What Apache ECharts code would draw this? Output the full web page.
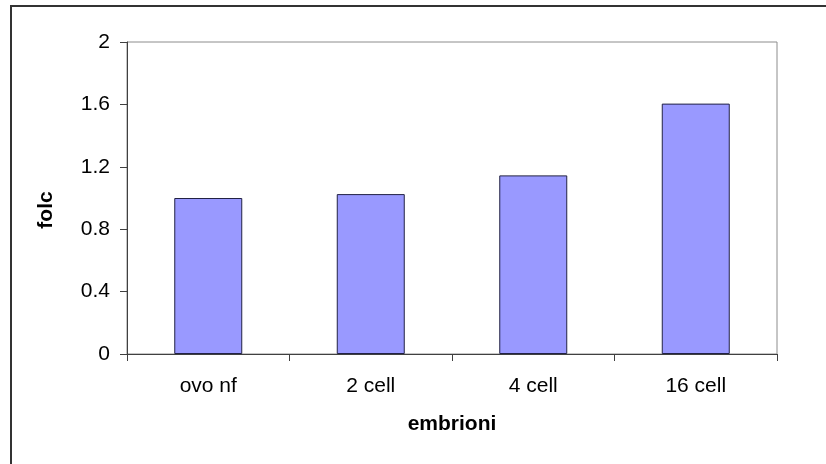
<!DOCTYPE html>
<html>
<head>
<meta charset="utf-8">
<script src="https://cdn.jsdelivr.net/npm/echarts@6/dist/echarts.min.js"></script>
<style>
  html, body { margin: 0; padding: 0; background: #ffffff; }
  #chart { width: 826px; height: 464px; }
</style>
</head>
<body>
<div id="chart"></div>
<script>
// Stage of the embryo and relative fold change
const categories = ['ovo nf', '2 cell', '4 cell', '16 cell'];
const folcValues = [1.0, 1.025, 1.145, 1.605];
const yTicks = { min: 0, max: 2, interval: 0.4 };

const chart = echarts.init(document.getElementById('chart'), null, { renderer: 'canvas' });

const font = '"Liberation Sans", Arial, Helvetica, sans-serif';

chart.setOption({
  backgroundColor: '#ffffff',
  animation: false,
  graphic: [
    {
      type: 'rect',
      shape: { x: 11, y: 6, width: 900, height: 600 },
      style: { fill: 'none', stroke: '#333333', lineWidth: 2 },
      silent: true
    }
  ],
  grid: {
    left: 127,
    top: 42,
    right: 49,
    bottom: 110,
    show: true,
    borderColor: '#8c8c8c',
    borderWidth: 1,
    backgroundColor: 'transparent'
  },
  xAxis: {
    type: 'category',
    data: categories,
    boundaryGap: true,
    name: 'embrioni',
    nameLocation: 'middle',
    nameGap: 60,
    nameTextStyle: { fontFamily: font, fontSize: 21, fontWeight: 'bold', color: '#000000' },
    axisLine: { show: true, lineStyle: { color: '#404040', width: 1 } },
    axisTick: { show: true, alignWithLabel: false, length: 7, lineStyle: { color: '#404040' } },
    axisLabel: { margin: 22, fontFamily: font, fontSize: 21, color: '#000000' },
    splitLine: { show: false }
  },
  yAxis: {
    type: 'value',
    min: yTicks.min,
    max: yTicks.max,
    interval: yTicks.interval,
    name: 'folc',
    nameLocation: 'middle',
    nameGap: 70,
    nameRotate: 90,
    nameTextStyle: { fontFamily: font, fontSize: 21, fontWeight: 'bold', color: '#000000', padding: [0, 24, 0, 0] },
    axisLine: { show: true, lineStyle: { color: '#404040', width: 1 } },
    axisTick: { show: true, length: 7, lineStyle: { color: '#404040' } },
    axisLabel: { margin: 17, fontFamily: font, fontSize: 21, color: '#000000' },
    splitLine: { show: false }
  },
  series: [
    {
      type: 'bar',
      data: folcValues,
      barWidth: 68,
      itemStyle: { color: '#9999ff', borderColor: '#222244', borderWidth: 1 }
    }
  ]
});
</script>
</body>
</html>
